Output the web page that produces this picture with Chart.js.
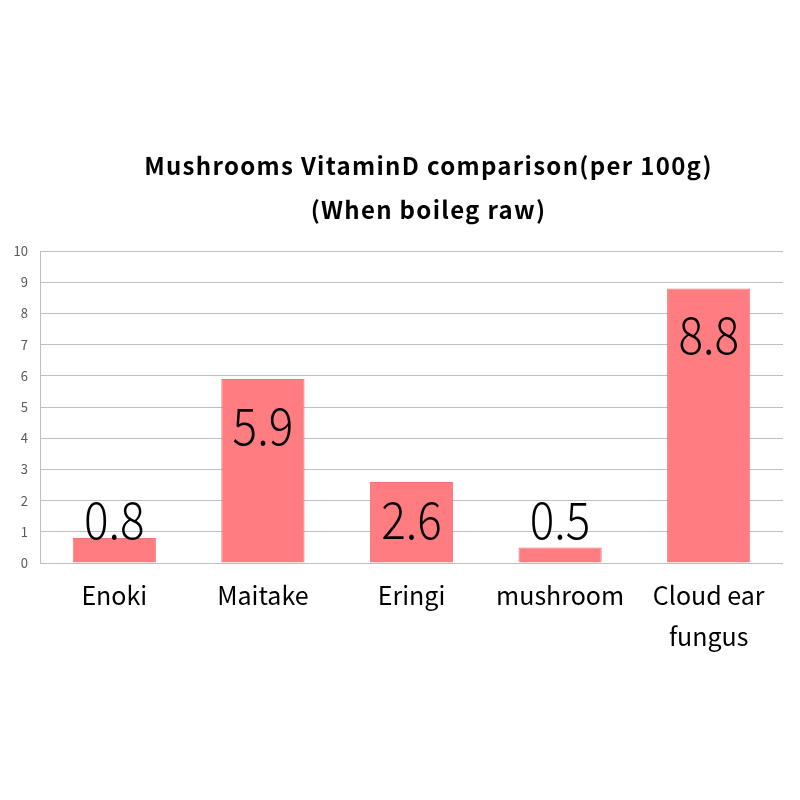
<!DOCTYPE html>
<html>
<head>
<meta charset="utf-8">
<script src="https://cdn.jsdelivr.net/npm/chart.js@4"></script>
<style>
  html, body { margin: 0; padding: 0; background: #fff; }
  #wrap { width: 800px; height: 800px; }
</style>
</head>
<body>
<div id="wrap"><canvas id="myChart" width="800" height="800"></canvas></div>
<script>
const labels = ['Enoki', 'Maitake', 'Eringi', 'mushroom', ['Cloud ear', 'fungus']];
const vitaminD = [0.8, 5.9, 2.6, 0.5, 8.8];
const titleLines = ['Mushrooms VitaminD comparison(per 100g)', '(When boileg raw)'];

const FONT = '"Noto Sans CJK JP", "Noto Sans", sans-serif';

// title drawn over the plot area centre
const titlePlugin = {
    id: 'topTitle',
    afterDraw(chart) {
        const ctx = chart.ctx;
        const area = chart.chartArea;
        const cx = (area.left + area.right) / 2 + 17;
        ctx.save();
        ctx.fillStyle = '#000';
        ctx.font = 'bold 24px ' + FONT;
        ctx.letterSpacing = '1.3px';
        ctx.textAlign = 'center';
        ctx.textBaseline = 'middle';
        ctx.fillText(titleLines[0], cx, 166);
        ctx.fillText(titleLines[1], cx, 210);
        ctx.restore();
    }
};

// value labels inside bar tops
const valuePlugin = {
    id: 'values',
    afterDatasetsDraw(chart) {
        const ctx = chart.ctx;
        const yScale = chart.scales.y;
        const zero = yScale.getPixelForValue(0);
        const meta = chart.getDatasetMeta(0);
        ctx.save();
        ctx.fillStyle = '#000';
        ctx.font = '300 51px ' + FONT;
        ctx.textAlign = 'center';
        ctx.textBaseline = 'alphabetic';
        meta.data.forEach((bar, i) => {
            const y = Math.min(bar.y + 66, zero - 24);
            ctx.save();
            ctx.translate(bar.x, y);
            ctx.scale(0.9, 1);
            ctx.fillText(vitaminD[i].toFixed(1), 0, 0);
            ctx.restore();
        });
        ctx.restore();
    }
};

const data = {
    labels: labels,
    datasets: [
    {
        data: vitaminD,
        backgroundColor: '#ff7c80',
        borderColor: '#f07377',
        borderWidth: 1,
        borderSkipped: 'bottom',
        categoryPercentage: 1,
        barPercentage: 0.56,
    }
]
};

const config = {
    type: 'bar',
    data: data,
    options: {
        responsive: false,
        animation: false,
        layout: { padding: { top: 251, left: 10, right: 17, bottom: 139 } },
        plugins: {
            legend: { display: false },
            title: { display: false },
            tooltip: { enabled: false },
        },
        scales: {
            x: {
                grid: { display: false },
                border: { display: false },
                ticks: {
                    color: '#000',
                    padding: 4,
                    maxRotation: 0,
                    autoSkip: false,
                    font: { family: FONT, size: 25, weight: 400, lineHeight: 1.64 },
                },
            },
            y: {
                min: 0,
                max: 10,
                afterFit(scale) { scale.width = 30; },
                grid: { color: '#bfbfbf', lineWidth: 1, drawTicks: false },
                border: { display: true, color: '#bfbfbf' },
                ticks: {
                    stepSize: 1,
                    color: '#595959',
                    padding: 12,
                    font: { family: FONT, size: 13 },
                },
            },
        },
    },
    plugins: [titlePlugin, valuePlugin],
};

const myChart = new Chart(
    document.getElementById('myChart'),
    config
);
</script>
</body>
</html>
